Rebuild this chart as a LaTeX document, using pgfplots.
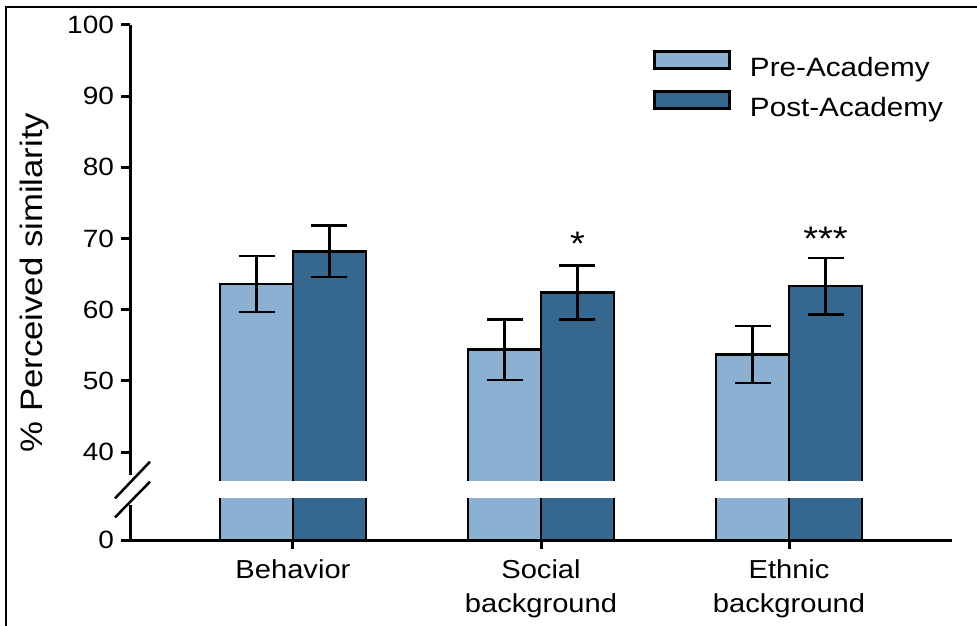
\documentclass[border=0pt]{standalone}
\usepackage{fontspec}
\setmainfont{Liberation Sans}[FakeStretch=1.12]
\usepackage{pgfplots}
\pgfplotsset{compat=1.18}
\definecolor{preblue}{RGB}{139,176,209}
\definecolor{postblue}{RGB}{54,103,142}
\pgfplotsset{boxlegend/.style={legend image code/.code={\draw[##1,line width=1.25pt] (0pt,0.5pt) rectangle (37.5pt,9pt);}}}
\pgfplotstableread{
x y e
0 63.6 3.95
1 54.4 4.25
2 53.7 4.0
}\pretable
\pgfplotstableread{
x y e
0 68.2 3.6
1 62.4 3.8
2 63.3 3.95
}\posttable
\begin{document}
\begin{tikzpicture}
\begin{axis}[
  scale only axis,
  width=411pt, height=257.5pt,
  xmin=-0.657, xmax=2.657,
  ymin=27.64, ymax=100,
  enlargelimits=false,
  ybar=0pt, bar width=0.294,
  clip mode=individual,
  axis lines=left,
  axis line style={-, line width=1.5pt},
  y axis line style={draw=none},
  xtick={0,1,2},
  xticklabels={Behavior, Social\\background, Ethnic\\background},
  xticklabel style={align=center, font=\fontsize{13}{17}\selectfont, yshift=-2pt},
  ytick={27.64,40,50,60,70,80,90,100},
  yticklabels={0,40,50,60,70,80,90,100},
  yticklabel style={font=\fontsize{12.5}{15}\selectfont},
  tick align=outside,
  major tick length=4.5pt,
  tick style={line width=1.5pt, black},
  ylabel={\% Perceived similarity},
  ylabel style={at={(axis description cs:-0.1156,0.5)}, anchor=center, font=\fontsize{15.5}{18}\selectfont},
  legend style={at={(axis description cs:0.6363,0.9534)}, anchor=north west, draw=none, fill=none, inner sep=0pt,
    font=\fontsize{13.25}{16}\selectfont,
    nodes={text height=10pt, text depth=3pt, inner ysep=3.5pt, inner xsep=0pt},
    column sep=9.5pt, row sep=0pt},
  legend cell align=left,
]
\addplot[fill=preblue, draw=black, line width=1.25pt, boxlegend,
  error bars/.cd, y dir=both, y explicit,
  error bar style={line width=1.25pt, black},
  error mark options={rotate=90, line width=1.25pt, black, mark size=9pt}]
  table[x=x, y=y, y error=e] {\pretable};
\addlegendentry{Pre-Academy}
\addplot[fill=postblue, draw=black, line width=1.25pt, boxlegend,
  error bars/.cd, y dir=both, y explicit,
  error bar style={line width=1.25pt, black},
  error mark options={rotate=90, line width=1.25pt, black, mark size=9pt}]
  table[x=x, y=y, y error=e] {\posttable};
\addlegendentry{Post-Academy}
\fill[white] (axis cs:-0.5,33.54) rectangle (axis cs:2.5,35.93);
\draw[line width=1.5pt] (axis cs:-0.657,100) -- (axis cs:-0.657,36.77);
\draw[line width=1.5pt] (axis cs:-0.657,32.55) -- (axis cs:-0.657,27.64);
\draw[line width=1.25pt] (axis cs:-0.7175,33.49) -- (axis cs:-0.5764,38.64);
\draw[line width=1.25pt] (axis cs:-0.7175,30.82) -- (axis cs:-0.5764,35.83);
\node[font=\fontsize{17}{19}\selectfont] at (axis cs:1.147,69.2) {*};
\node[font=\fontsize{17}{19}\selectfont] at (axis cs:2.147,70.0) {***};
\end{axis}
\pgfresetboundingbox
\useasboundingbox (-65pt,-42.5pt) rectangle (423.5pt,270pt);
\draw[line width=1pt] (-62pt,-43pt) -- (-62pt,266.5pt) -- (424pt,266.5pt);
\end{tikzpicture}
\end{document}
